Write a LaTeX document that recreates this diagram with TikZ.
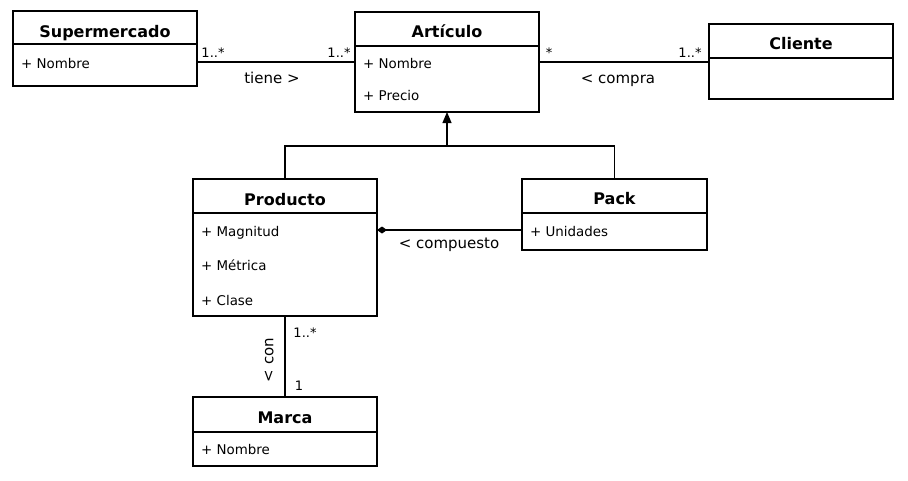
\documentclass[tikz,border=0pt]{standalone}
\usepackage{fontspec}
\setmainfont{DejaVu Sans}
\usetikzlibrary{arrows.meta}

\tikzset{
	clase/.style={draw, line width=1.2pt, anchor=north west, inner sep=0pt, outer sep=0pt},
	titulo/.style={font=\bfseries\fontsize{16}{18}\selectfont, anchor=base, inner sep=0pt},
	atrib/.style={font=\fontsize{13.4}{16}\selectfont, anchor=base west, inner sep=0pt},
	mult/.style={font=\fontsize{13}{15}\selectfont, anchor=base, inner sep=0pt},
	etiq/.style={font=\fontsize{15}{18}\selectfont, anchor=base, inner sep=0pt},
	linea/.style={line width=1.2pt},
}

\begin{document}
\begin{tikzpicture}[x=1pt, y=-1pt]
			\useasboundingbox (0,0) rectangle (908,480);
			% clases
			\node[clase, minimum width=184pt, minimum height=75pt] (super) at (13,11) {};
			\node[clase, minimum width=184pt, minimum height=100pt] (art) at (355,12) {};
			\node[clase, minimum width=184pt, minimum height=75pt] (cli) at (709,24) {};
			\node[clase, minimum width=184pt, minimum height=137pt] (prod) at (193,179) {};
			\node[clase, minimum width=185pt, minimum height=71pt] (pack) at (522,179) {};
			\node[clase, minimum width=184pt, minimum height=69pt] (marca) at (193,397) {};
			\draw[linea] (13,44) -- (197,44);
			\draw[linea] (355,46) -- (539,46);
			\draw[linea] (709,58) -- (893,58);
			\draw[linea] (193,213) -- (377,213);
			\draw[linea] (522,213) -- (707,213);
			\draw[linea] (193,432) -- (377,432);
			\node[titulo] (superT) at (105,37) {Supermercado};
			\node[titulo] (artT) at (447,37) {Artículo};
			\node[titulo] (cliT) at (801,49) {Cliente};
			\node[titulo] (prodT) at (285,205) {Producto};
			\node[titulo] (packT) at (614.5,204) {Pack};
			\node[titulo] (marcaT) at (285,423) {Marca};
			\node[atrib] (superA) at (21,68) {+ Nombre};
			\node[atrib] (artA) at (363,68) {+ Nombre};
			\node[atrib] (artB) at (363,100) {+ Precio};
			\node[atrib] (prodA) at (201,236) {+ Magnitud};
			\node[atrib] (prodB) at (201,270) {+ Métrica};
			\node[atrib] (prodC) at (201,305) {+ Clase};
			\node[atrib] (packA) at (530,236) {+ Unidades};
			\node[atrib] (marcaA) at (201,454) {+ Nombre};
			% relaciones
			\coordinate (asoc) at (0,62);
			\coordinate (comp) at (0,230);
			\coordinate (gen) at (447,146);
			\draw[linea] (super.east |- asoc) -- (art.west |- asoc);
			\draw[linea] (art.east |- asoc) -- (cli.west |- asoc);
			\draw[linea] (prod.north) |- (gen) -| (pack.north);
			\draw[linea, -{Triangle[length=11pt, width=9pt]}] (gen) -- (art.south);
			\draw[linea, {Diamond[length=10pt, width=7pt]}-] (prod.east |- comp) -- (pack.west |- comp);
			\draw[linea] (prod.south) -- (marca.north);
			\node[mult] (m1) at (213,57) {1..*};
			\node[mult] (m2) at (339,57) {1..*};
			\node[mult] (m3) at (549,57) {*};
			\node[mult] (m4) at (690,57) {1..*};
			\node[mult] (m5) at (305,337) {1..*};
			\node[mult] (m6) at (299,390) {1};
			\node[etiq] (tiene) at (272,83) {tiene >};
			\node[etiq] (compra) at (618,83) {< compra};
			\node[etiq] (compuesto) at (449,248) {< compuesto};
			\node[etiq, rotate=90, anchor=center] (con) at (269,360) {< con};
\end{tikzpicture}
\end{document}
